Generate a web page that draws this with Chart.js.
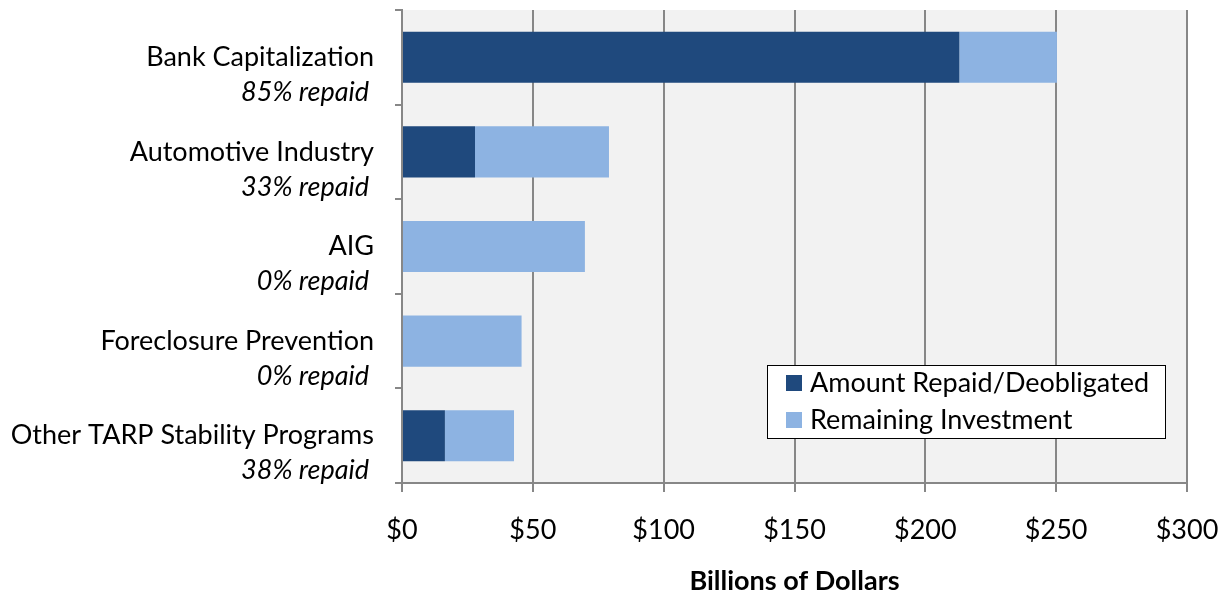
<!DOCTYPE html>
<html>
<head>
<meta charset="utf-8">
<script src="https://cdn.jsdelivr.net/npm/chart.js@4"></script>
<style>
  html,body{margin:0;padding:0;background:#fff;}
  #wrap{width:1221px;height:595px;position:relative;}
</style>
</head>
<body>
<div id="wrap"><canvas id="mainChart" width="1221" height="595"></canvas></div>
<script>
/* ─── DATA ──────────────────────────────── */
const CATEGORIES = ['Bank Capitalization','Automotive Industry','AIG','Foreclosure Prevention','Other TARP Stability Programs'];
const PCT_LABELS = ['85% repaid','33% repaid','0% repaid','0% repaid','38% repaid'];
const REPAID     = [213, 27.9, 0, 0, 16.4];
const REMAINING  = [37.3, 51.2, 69.9, 45.7, 26.4];
const SERIES     = ['Amount Repaid/Deobligated','Remaining Investment'];
const X_TITLE    = 'Billions of Dollars';

/* ─── STYLE ─────────────────────────────── */
const DARK  = '#1F497D';
const LIGHT = '#8DB3E2';
const GRID  = '#878787';
const FONT  = 'Lato, "Open Sans", sans-serif';
const FS    = 27;

/* ─── PLUGINS ───────────────────────────── */
const plotBg = {
  id:'plotBg',
  beforeDraw(chart){
    const {ctx, chartArea:a} = chart;
    ctx.save();
    ctx.fillStyle = '#F2F2F2';
    ctx.fillRect(a.left, a.top, a.right-a.left, a.bottom-a.top);
    ctx.restore();
  }
};

const catLabels = {
  id:'catLabels',
  afterDraw(chart){
    const {ctx} = chart;
    const y = chart.scales.y;
    ctx.save();
    ctx.fillStyle = '#000';
    ctx.textAlign = 'right';
    ctx.textBaseline = 'middle';
    CATEGORIES.forEach((c,i)=>{
      const py = y.getPixelForValue(i);
      ctx.font = `${FS}px ${FONT}`;
      ctx.fillText(c, 374, py);
      ctx.font = `italic ${FS}px ${FONT}`;
      ctx.fillText(PCT_LABELS[i], 369, py+35);
    });
    ctx.restore();
  }
};

const boxLegend = {
  id:'boxLegend',
  afterDraw(chart){
    const {ctx, chartArea:a} = chart;
    const x0 = a.right-420, y0 = a.bottom-118, w = 398, h = 73;
    ctx.save();
    ctx.fillStyle = '#fff';
    ctx.fillRect(x0, y0, w, h);
    ctx.strokeStyle = '#000';
    ctx.lineWidth = 1;
    ctx.strokeRect(x0+0.5, y0+0.5, w, h);
    ctx.font = `${FS}px ${FONT}`;
    ctx.textBaseline = 'middle';
    ctx.textAlign = 'left';
    [DARK, LIGHT].forEach((col,i)=>{
      const cy = y0 + 18 + i*37;
      ctx.fillStyle = col;
      ctx.fillRect(x0+19, cy-8, 16, 16);
      ctx.fillStyle = '#000';
      ctx.fillText(SERIES[i], x0+43, cy);
    });
    ctx.restore();
  }
};

/* ─── CHART ─────────────────────────────── */
new Chart(document.getElementById('mainChart').getContext('2d'),{
  type:'bar',
  data:{
    labels:CATEGORIES,
    datasets:[
      {label:SERIES[0], data:REPAID,    backgroundColor:DARK,  borderWidth:0},
      {label:SERIES[1], data:REMAINING, backgroundColor:LIGHT, borderWidth:0}
    ]
  },
  options:{
    indexAxis:'y',
    responsive:false,
    animation:false,
    categoryPercentage:1,
    barPercentage:0.54,
    layout:{padding:{top:10,right:34,left:0,bottom:0}},
    plugins:{legend:{display:false}, tooltip:{enabled:false}},
    scales:{
      x:{
        stacked:true, min:0, max:300,
        afterFit: s=>{ s.height = 112; s.paddingLeft = 0; s.paddingRight = 0; },
        grid:{color:GRID, lineWidth:2, tickLength:9},
        border:{color:GRID, width:2},
        ticks:{stepSize:50, padding:22, color:'#000', font:{size:FS, family:FONT},
               maxRotation:0, callback:v=>'$'+v},
        title:{display:true, text:X_TITLE, color:'#000',
               font:{size:FS, family:FONT, weight:'bold', lineHeight:1},
               padding:{top:0,bottom:0}}
      },
      y:{
        stacked:true,
        afterFit: s=>{ s.width = 402; s.paddingTop = 0; s.paddingBottom = 0; },
        grid:{offset:true, drawOnChartArea:false, color:GRID, lineWidth:2, tickLength:7},
        border:{color:GRID, width:2},
        ticks:{display:false}
      }
    }
  },
  plugins:[plotBg, catLabels, boxLegend]
});
</script>
</body>
</html>
